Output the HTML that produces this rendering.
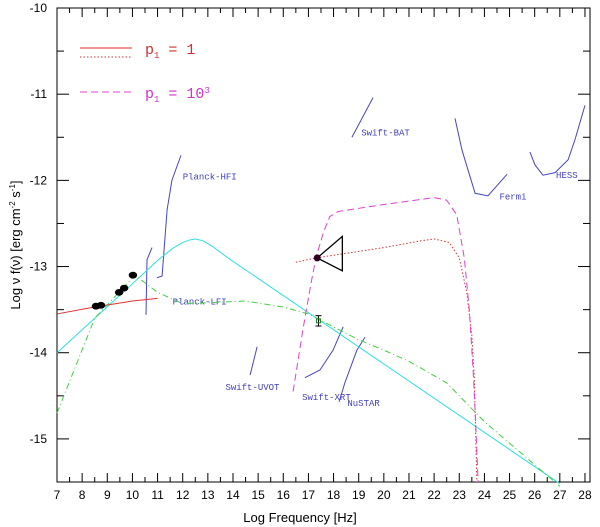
<!DOCTYPE html>
<html><head><meta charset="utf-8"><style>
body{margin:0;background:#fff}
svg{display:block;font-family:"Liberation Sans",sans-serif}
.blbl{font-family:"Liberation Mono",monospace;font-size:9px;fill:#4040c0}
</style></head><body>
<svg id="c" width="600" height="527"></svg>
<script>
const xTicks=[7,8,9,10,11,12,13,14,15,16,17,18,19,20,21,22,23,24,25,26,27,28];
const yTicks=[-10,-11,-12,-13,-14,-15];
const cyanX=[7,10,11,11.6,12,12.3,12.5,12.8,13.2,13.8,27];const cyanY=[-14.0,-13.2,-12.93,-12.79,-12.72,-12.69,-12.68,-12.7,-12.77,-12.9,-15.52];
const greenX=[7,8.5,10.1,11,12,13,14.5,16,17,18,19,20,21,22.5,24,25,26,27];
const greenY=[-14.7,-13.6,-13.1,-13.3,-13.43,-13.42,-13.4,-13.47,-13.55,-13.7,-13.85,-13.97,-14.1,-14.35,-14.8,-15.05,-15.3,-15.55];
const redX=[7,8.5,10,11];const redY=[-13.55,-13.47,-13.4,-13.37];
const redDotX=[16.5,17.3,20,21.5,22,22.6,23,23.3,23.5,23.6,23.7];
const redDotY=[-12.95,-12.9,-12.78,-12.7,-12.68,-12.72,-12.9,-13.3,-13.8,-14.3,-15.5];
const magX=[16.39,16.8,17.1,17.3,17.6,17.85,18.2,20,22,22.5,22.9,23.2,23.4,23.55,23.65,23.75];
const magY=[-14.45,-13.7,-13.2,-12.9,-12.6,-12.42,-12.36,-12.28,-12.2,-12.23,-12.4,-12.9,-13.5,-14.2,-14.8,-15.5];
const dotX=[8.55,8.75,9.47,9.67,10.02];const dotY=[-13.46,-13.45,-13.3,-13.25,-13.1];
const xrayX=17.35,xrayY=-12.9,bowX=18.35,bowHi=-12.65,bowLo=-13.05;
const errX=17.4,errY=-13.63,errD=0.06;
const instruments=[
{name:"planck-lfi",x:[10.54,10.58,10.78],y:[-13.56,-12.92,-12.78],label:"Planck-LFI",lx:11.6,ly:-13.44},
{name:"planck-hfi",x:[10.98,11.18,11.38,11.57,11.93],y:[-13.13,-13.11,-12.34,-12.0,-11.71],label:"Planck-HFI",lx:12.0,ly:-11.99},
{name:"swift-uvot",x:[14.68,14.96],y:[-14.26,-13.93],label:"Swift-UVOT",lx:13.7,ly:-14.43},
{name:"swift-xrt",x:[16.86,17.46,17.98,18.38],y:[-14.29,-14.2,-13.97,-13.7],label:"Swift-XRT",lx:16.75,ly:-14.55},
{name:"nustar",x:[18.22,18.46,18.93,19.25],y:[-14.57,-14.34,-13.97,-13.82],label:"NuSTAR",lx:18.55,ly:-14.62},
{name:"swift-bat",x:[18.73,19.57],y:[-11.5,-11.04],label:"Swift-BAT",lx:19.1,ly:-11.48},
{name:"fermi",x:[22.83,23.11,23.63,24.14,24.9],y:[-11.28,-11.65,-12.15,-12.18,-11.93],label:"Fermi",lx:24.6,ly:-12.22},
{name:"hess",x:[25.81,26.01,26.33,26.81,27.33,27.6,28.0],y:[-11.67,-11.82,-11.94,-11.91,-11.76,-11.53,-11.13],label:"HESS",lx:26.85,ly:-11.97}];
const L=57,R=590,T=8,B=482,x0=7,x1=28.2,y0=-15.5,y1=-10;
const sx=v=>L+(v-x0)/(x1-x0)*(R-L), sy=v=>T+(y1-v)/(y1-y0)*(B-T);
const svg=document.getElementById('c'),NS="http://www.w3.org/2000/svg";
function el(t,a,p){const e=document.createElementNS(NS,t);for(const k in a)e.setAttribute(k,a[k]);(p||svg).appendChild(e);return e;}
function poly(xs,ys,st,dash,name){const e=el('polyline',{points:xs.map((v,i)=>sx(v)+','+sy(ys[i])).join(' '),fill:'none',stroke:st,'stroke-width':1,'stroke-dasharray':dash||'none'});

return e;}
const f=el('rect',{x:L,y:T,width:R-L,height:B-T,fill:'none',stroke:'#000'});


for(let v=7;v<=28.01;v+=0.5){const maj=Math.abs(v-Math.round(v))<0.01,l=maj?9:5;
el('line',{x1:sx(v),x2:sx(v),y1:B,y2:B-l,stroke:'#000'});el('line',{x1:sx(v),x2:sx(v),y1:T,y2:T+l,stroke:'#000'});}
for(let v=-15.5;v<=-10;v+=0.5){const maj=Math.abs(v-Math.round(v))<0.01,l=maj?12:7;
el('line',{x1:L,x2:L+l,y1:sy(v),y2:sy(v),stroke:'#000'});el('line',{x1:R,x2:R-l,y1:sy(v),y2:sy(v),stroke:'#000'});}
xTicks.forEach(v=>{const t=el('text',{x:sx(v),y:B+17,'text-anchor':'middle','font-size':12});t.textContent=v;

});
yTicks.forEach(v=>{const t=el('text',{x:L-10,y:sy(v)+4,'text-anchor':'end','font-size':12});t.textContent=v;

});
instruments.forEach(s=>{poly(s.x,s.y,'#4545c8',null,s.name+'-sensitivity');
const t=el('text',{x:sx(s.lx),y:sy(s.ly),class:'blbl'});t.textContent=s.label;

});
poly(cyanX,cyanY,'#30e0e0',null,'cyan-model');
poly(greenX,greenY,'#40d040','6 3 1 3','green-model');
poly(redX,redY,'#e03030',null,'red-solid-model');
poly(redDotX,redDotY,'#e03030','1.5 2','red-dotted-model');
poly(magX,magY,'#e040d0','7 4','magenta-dashed-model');
dotX.forEach((v,i)=>{const c=el('ellipse',{cx:sx(v),cy:sy(dotY[i]),rx:4.2,ry:3.4,fill:'#000'});

});
const bw=el('polygon',{points:`${sx(xrayX)},${sy(xrayY)} ${sx(bowX)},${sy(bowHi)} ${sx(bowX)},${sy(bowLo)}`,fill:'none',stroke:'#000','stroke-width':1.3});


const xp=el('circle',{cx:sx(xrayX),cy:sy(xrayY),r:3.5,fill:'#300020'});


const eg=el('g',{stroke:'#000'});


el('line',{x1:sx(errX),x2:sx(errX),y1:sy(errY+errD),y2:sy(errY-errD)},eg);
el('line',{x1:sx(errX)-3,x2:sx(errX)+3,y1:sy(errY+errD),y2:sy(errY+errD)},eg);
el('line',{x1:sx(errX)-3,x2:sx(errX)+3,y1:sy(errY-errD),y2:sy(errY-errD)},eg);
el('rect',{x:sx(errX)-2,y:sy(errY)-2,width:4,height:4,fill:'none',stroke:'#208020'},eg);
</script>
<svg style="position:absolute;left:0;top:0" width="600" height="527">
<g>
<line x1="80" y1="48" x2="132" y2="48" stroke="#e03030"/>
<line x1="80" y1="57" x2="132" y2="57" stroke="#e03030" stroke-dasharray="1.5 2"/>
<text x="145" y="54" font-family="Liberation Mono,monospace" font-size="15" fill="#d03030">p<tspan font-size="9" dy="4">1</tspan><tspan dy="-4"> = 1</tspan></text>
<line x1="80" y1="92" x2="132" y2="92" stroke="#e040d0" stroke-dasharray="7 4"/>
<text x="145" y="98" font-family="Liberation Mono,monospace" font-size="15" fill="#d030d0">p<tspan font-size="9" dy="4">1</tspan><tspan dy="-4"> = 10</tspan><tspan font-size="9" dy="-5">3</tspan></text>
</g>
<text x="300" y="522" text-anchor="middle" font-family="Liberation Sans,sans-serif" font-size="13">Log Frequency [Hz]</text>
<text transform="translate(20,245) rotate(-90)" text-anchor="middle" font-family="Liberation Sans,sans-serif" font-size="13">Log ν f(ν) [erg cm<tspan font-size="8" dy="-5">-2</tspan><tspan dy="5"> s</tspan><tspan font-size="8" dy="-5">-1</tspan><tspan dy="5">]</tspan></text>
</svg>
</body></html>
